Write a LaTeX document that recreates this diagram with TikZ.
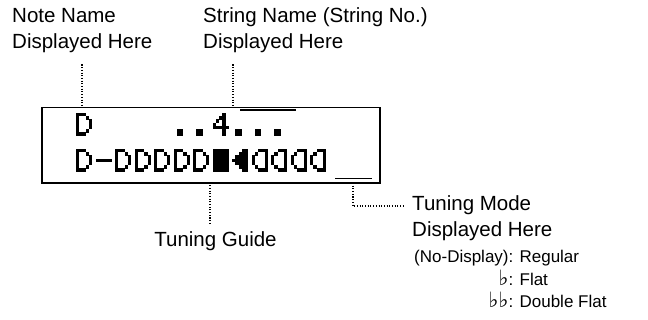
\documentclass[tikz,border=0pt]{standalone}
\usepackage{fontspec}
\setmainfont{Liberation Sans}
\newfontfamily\symfont{DejaVu Sans}
\usetikzlibrary{positioning}

% dot patterns of the 5x7 display characters (column/row, row 0 on top)
\newcommand{\glyphD}{0/0,1/0,2/0,0/1,3/1,0/2,4/2,0/3,4/3,0/4,4/4,0/5,3/5,0/6,1/6,2/6}
\newcommand{\glyphDash}{0/3,1/3,2/3,3/3,4/3}
\newcommand{\glyphFour}{3/0,2/1,3/1,1/2,3/2,0/3,3/3,0/4,1/4,2/4,3/4,4/4,3/5,3/6}
\newcommand{\glyphDot}{1/5,2/5,1/6,2/6}
\newcommand{\glyphBlock}{0/0,1/0,2/0,3/0,4/0,0/1,1/1,2/1,3/1,4/1,0/2,1/2,2/2,3/2,4/2,%
0/3,1/3,2/3,3/3,4/3,0/4,1/4,2/4,3/4,4/4,0/5,1/5,2/5,3/5,4/5,0/6,1/6,2/6,3/6,4/6}
\newcommand{\glyphLeft}{3/0,4/0,2/1,3/1,4/1,1/2,2/2,3/2,4/2,0/3,1/3,2/3,3/3,4/3,%
1/4,2/4,3/4,4/4,2/5,3/5,4/5,3/6,4/6}
\newcommand{\glyphBack}{2/0,3/0,4/0,1/1,4/1,0/2,4/2,0/3,4/3,0/4,4/4,1/5,4/5,2/6,3/6,4/6}
% #1 cell number, #2 top edge of the row, #3 pattern
\newcommand{\lcdchar}[3]{%
  \foreach \pc/\pr in #3 {\fill (76+19.5*#1+3.25*\pc,#2-3.25*\pr) rectangle ++(3.4,-3.4);}}
\newcommand{\flatsign}{{\symfont\fontsize{18}{18}\selectfont ♭}}

\begin{document}
\begin{tikzpicture}[
        x=0.3mm, y=0.3mm,
        label/.style={inner sep=0, align=left, font=\fontsize{17.5}{22.2}\selectfont},
        small label/.style={inner sep=0, font=\fontsize{14.5}{18.8}\selectfont},
        leader/.style={line width=0.9pt, dash pattern=on 0.9pt off 1.4pt},
        lcdframe/.style={draw, line width=1.5pt}
    ]
        \useasboundingbox (0,0) rectangle (648,320);

        % display
        \draw[lcdframe] (42,137) rectangle (380,212.5);
        \draw[line width=1.2pt] (240,210) -- (296,210);
        \draw[line width=1.2pt] (335,141.5) -- (372,141.5);

        \lcdchar{0}{207}{\glyphD}
        \foreach \i in {5,6,8,9,10} \lcdchar{\i}{207}{\glyphDot};
        \lcdchar{7}{207}{\glyphFour}

        \lcdchar{0}{171}{\glyphD}
        \lcdchar{1}{171}{\glyphDash}
        \foreach \i in {2,...,6} \lcdchar{\i}{171}{\glyphD};
        \lcdchar{7}{171}{\glyphBlock}
        \lcdchar{8}{171}{\glyphLeft}
        \foreach \i in {9,...,12} \lcdchar{\i}{171}{\glyphBack};

        \coordinate (notetip) at (82,212.5);
        \coordinate (stringtip) at (233,212.5);
        \coordinate (guidetip) at (210,137);
        \coordinate (modetip) at (353,137);

        % labels (base = last line)
        \node[label, anchor=base west] (notename) at (12,271) {Note Name\\Displayed Here};
        \node[label, anchor=base west] (stringname) at (203,271) {String Name (String No.)\\Displayed Here};
        \node[label, anchor=base] (guidename) at (215.5,73) {Tuning Guide};
        \node[label, anchor=base west] (modename) at (412,83) {Tuning Mode\\Displayed Here};
        \node[small label, anchor=base west] (modelist) at (414,57)
            {\begin{tabular}[t]{@{}r@{: }l@{}}(No-Display)&Regular\\\flatsign&Flat\\\flatsign\flatsign&Double Flat\end{tabular}};

        \draw[leader, shorten <=3.3mm] (notetip |- notename.south) -- (notetip);
        \draw[leader, shorten <=3.3mm] (stringtip |- stringname.south) -- (stringtip);
        \draw[leader, shorten <=2.4mm] (guidetip |- guidename.north) -- (guidetip);
        \draw[leader] (modetip) |- ([shift={(-7,31)}]modename.base west);
    \end{tikzpicture}
\end{document}
